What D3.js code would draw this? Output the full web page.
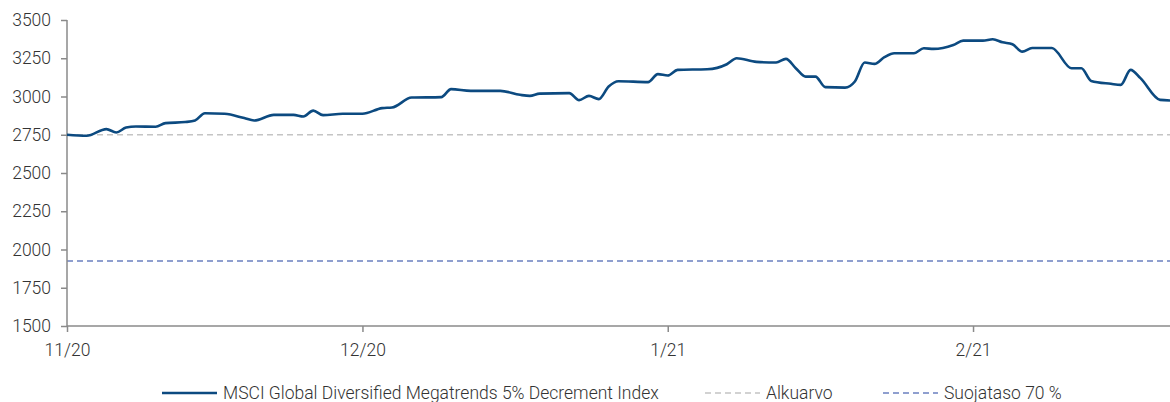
<!DOCTYPE html>
<html>
<head>
<meta charset="utf-8">
<script src="https://cdn.jsdelivr.net/npm/d3@7"></script>
<style>
    body { margin: 0; background: #fff; }
    svg text { font-family: Roboto, "Liberation Sans", sans-serif; font-weight: 300; fill: #333; }
</style>
</head>
<body>
<div id="chart"></div>
<script>
// index values
var dates = [
    "2020-11-01", "2020-11-03", "2020-11-05", "2020-11-06", "2020-11-07", "2020-11-08", "2020-11-10", "2020-11-11",
    "2020-11-13", "2020-11-14", "2020-11-15", "2020-11-17", "2020-11-19", "2020-11-20", "2020-11-22", "2020-11-24",
    "2020-11-25", "2020-11-26", "2020-11-27", "2020-11-29",
    "2020-12-01", "2020-12-03", "2020-12-04", "2020-12-06", "2020-12-09", "2020-12-10", "2020-12-12", "2020-12-15",
    "2020-12-17", "2020-12-18", "2020-12-19", "2020-12-22", "2020-12-23", "2020-12-24", "2020-12-25", "2020-12-26",
    "2020-12-27", "2020-12-30", "2020-12-31",
    "2021-01-01", "2021-01-02", "2021-01-05", "2021-01-07", "2021-01-08", "2021-01-10", "2021-01-12", "2021-01-13",
    "2021-01-14", "2021-01-15", "2021-01-16", "2021-01-17", "2021-01-19", "2021-01-20", "2021-01-21", "2021-01-22",
    "2021-01-23", "2021-01-24", "2021-01-26", "2021-01-27", "2021-01-28", "2021-01-30", "2021-01-31",
    "2021-02-02", "2021-02-03", "2021-02-04", "2021-02-05", "2021-02-06", "2021-02-07", "2021-02-09", "2021-02-11",
    "2021-02-12", "2021-02-13", "2021-02-15", "2021-02-16", "2021-02-17", "2021-02-18", "2021-02-20", "2021-02-21"
];
var indexValues = [
    2750, 2743, 2787, 2765, 2797, 2804, 2802, 2826, 2833, 2843, 2891, 2887, 2859, 2843, 2880, 2880, 2869, 2908, 2878, 2887,
    2887, 2924, 2928, 2993, 2996, 3048, 3037, 3037, 3011, 3004, 3019, 3022, 2976, 3004, 2983, 3065, 3100, 3094, 3146,
    3137, 3174, 3178, 3211, 3250, 3226, 3222, 3246, 3185, 3130, 3130, 3061, 3058, 3098, 3222, 3213, 3257, 3283, 3283,
    3315, 3311, 3337, 3365,
    3365, 3374, 3354, 3341, 3293, 3317, 3317, 3185, 3185, 3102, 3083, 3076, 3174, 3120, 2978, 2974
];
var startValue = 2750;            // Alkuarvo
var protectionLevel = 0.7 * 2750; // Suojataso 70 %
var yTicks = [1500, 1750, 2000, 2250, 2500, 2750, 3000, 3250, 3500];
var xTicks = ["2020-11-01", "2020-12-01", "2021-01-01", "2021-02-01"];
var legendLabels = ["MSCI Global Diversified Megatrends 5% Decrement Index", "Alkuarvo", "Suojataso 70 %"];

var width = 1170, height = 402;
var margin = { left: 67, right: 0, top: 20, bottom: 76 };

var parse = d3.utcParse("%Y-%m-%d");
var data = dates.map(function (d, i) {
    return { date: parse(d), value: indexValues[i] };
});

var svg = d3.select("#chart").append("svg").attr("width", width).attr("height", height);

var x = d3.scaleUtc()
    .domain([parse(dates[0]), parse(dates[dates.length - 1])])
    .range([margin.left, width - margin.right]);
var y = d3.scaleLinear()
    .domain([1500, 3500])
    .range([height - margin.bottom, margin.top]);

// reference lines
svg.append("line")
    .attr("x1", x.range()[0]).attr("x2", x.range()[1])
    .attr("y1", y(startValue)).attr("y2", y(startValue))
    .attr("stroke", "#c4c4c4").attr("stroke-width", 1.5).attr("stroke-dasharray", "6,4");
svg.append("line")
    .attr("x1", x.range()[0]).attr("x2", x.range()[1])
    .attr("y1", y(protectionLevel)).attr("y2", y(protectionLevel))
    .attr("stroke", "#6b80c0").attr("stroke-width", 1.5).attr("stroke-dasharray", "6,4");

// axes
var yAxis = svg.append("g")
    .attr("transform", "translate(" + margin.left + ",0)")
    .call(d3.axisLeft(y).tickValues(yTicks).tickSize(6).tickPadding(10).tickFormat(d3.format("d")));
var xAxis = svg.append("g")
    .attr("transform", "translate(0," + (height - margin.bottom) + ")")
    .call(d3.axisBottom(x).tickValues(xTicks.map(parse)).tickSize(6).tickPadding(12).tickFormat(d3.utcFormat("%-m/%y")));
[yAxis, xAxis].forEach(function (g) {
    g.select(".domain").attr("stroke", "#8a8a8a").attr("stroke-width", 1.5);
    g.selectAll(".tick line").attr("stroke", "#8a8a8a").attr("stroke-width", 1.5);
    g.selectAll(".tick text").attr("font-size", 17.5).attr("fill", "#333");
});
yAxis.select(".domain").attr("d", "M0," + y(3500) + "V" + y(1500));
xAxis.select(".domain").attr("d", "M" + x.range()[0] + ",0H" + x.range()[1]);

// index line
var line = d3.line()
    .x(function (d) { return x(d.date); })
    .y(function (d) { return y(d.value); })
    .curve(d3.curveMonotoneX);
svg.append("path").datum(data)
    .attr("fill", "none")
    .attr("stroke", "#0c4a80")
    .attr("stroke-width", 2.6)
    .attr("d", line);

// legend
var legendItems = [
    { label: legendLabels[0], x: 162, color: "#0c4a80", dash: null, w: 2.6 },
    { label: legendLabels[1], x: 705, color: "#c4c4c4", dash: "6,4", w: 1.5 },
    { label: legendLabels[2], x: 883, color: "#6b80c0", dash: "6,4", w: 1.5 }
];
var legend = svg.append("g").attr("transform", "translate(0,393)");
legendItems.forEach(function (d) {
    legend.append("line")
        .attr("x1", d.x).attr("x2", d.x + 55)
        .attr("stroke", d.color).attr("stroke-width", d.w)
        .attr("stroke-dasharray", d.dash);
    legend.append("text")
        .attr("x", d.x + 61).attr("y", 6)
        .attr("font-size", 17.5)
        .text(d.label);
});
</script>
</body>
</html>
